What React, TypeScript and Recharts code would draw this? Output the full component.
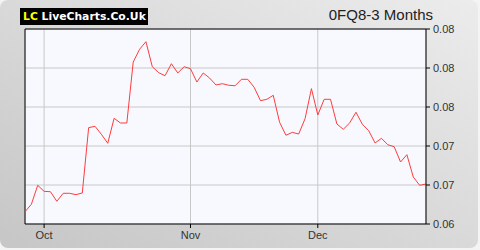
import { LineChart, Line, XAxis, YAxis, CartesianGrid, ReferenceLine } from 'recharts';

// closing prices, one per trading day
const prices = [
  0.06526, 0.06602, 0.06797, 0.06735, 0.06731, 0.06633, 0.06715, 0.06715, 0.06701, 0.06718,
  0.07388, 0.07402, 0.0732, 0.07228, 0.07484, 0.07436, 0.07436, 0.08061, 0.08192, 0.0827,
  0.08013, 0.07952, 0.07921, 0.08044, 0.07949, 0.08013, 0.07993, 0.07856, 0.07949, 0.07897,
  0.07826, 0.07839, 0.07823, 0.07818, 0.07884, 0.07884, 0.07802, 0.07665, 0.07679, 0.0772,
  0.07443, 0.0731, 0.0734, 0.07323, 0.0748, 0.07788, 0.07518, 0.07679, 0.07679, 0.07426,
  0.07371, 0.07436, 0.07546, 0.07423, 0.07357, 0.07231, 0.07279, 0.07213, 0.07193, 0.07036,
  0.07111, 0.06882, 0.06797, 0.0681,
];

const monthTickIdx = [3, 26, 46];
const monthTickLabels = ['Oct', 'Nov', 'Dec'];
const priceTicks = [0.064, 0.068, 0.072, 0.076, 0.08, 0.084];

const data = prices.map((price, i) => ({ i, price }));

const tickStyle = { fontSize: 11, fill: '#333', fontFamily: 'Liberation Sans, Arial, sans-serif' };

export default function App() {
  return (
    <div style={{ position: 'fixed', left: 0, top: 0, width: 480, height: 250, background: '#f4f4f4' }}>
      <div
        style={{
          position: 'absolute',
          left: 0,
          top: 0,
          width: 478,
          height: 248,
          borderRadius: 8,
          background: 'linear-gradient(to top right, #c6c6c6, #ececec)',
        }}
      />
      <LineChart
        width={480}
        height={250}
        data={data}
        margin={{ top: 29, right: 0, left: 25, bottom: 0 }}
        style={{ position: 'absolute', left: 0, top: 0 }}
      >
        <CartesianGrid stroke="#c8c8c8" fill="#f8f9ff" />
        <XAxis
          type="number"
          dataKey="i"
          domain={[0, prices.length - 1]}
          ticks={monthTickIdx}
          tickFormatter={(v: number) => monthTickLabels[monthTickIdx.indexOf(v)] ?? ''}
          height={26}
          tickSize={4}
          tickMargin={3}
          axisLine={{ stroke: '#000' }}
          tickLine={{ stroke: '#000' }}
          tick={tickStyle}
        />
        <YAxis
          orientation="right"
          domain={[0.064, 0.084]}
          ticks={priceTicks}
          tickFormatter={(v: number) => v.toFixed(2)}
          width={54}
          tickSize={4}
          tickMargin={3}
          axisLine={{ stroke: '#000' }}
          tickLine={{ stroke: '#000' }}
          tick={tickStyle}
        />
        <ReferenceLine x={0} stroke="#000" />
        <ReferenceLine y={0.084} stroke="#000" />
        <Line
          type="linear"
          dataKey="price"
          stroke="#ff3c3c"
          strokeWidth={1}
          dot={false}
          isAnimationActive={false}
        />
      </LineChart>
      <div
        style={{
          position: 'absolute',
          left: 20,
          top: 8,
          width: 128,
          height: 17,
          background: '#000',
          fontFamily: 'DejaVu Sans, sans-serif',
          fontWeight: 'bold',
          fontSize: 10.8,
          lineHeight: '17px',
          whiteSpace: 'nowrap',
          paddingLeft: 3,
          boxSizing: 'border-box',
        }}
      >
        <span style={{ color: '#ffff00' }}>LC</span>
        <span style={{ color: '#fff' }}> LiveCharts.Co.Uk</span>
      </div>
      <div
        style={{
          position: 'absolute',
          right: 480 - 433,
          top: 6,
          fontFamily: 'Liberation Sans, Arial, sans-serif',
          fontSize: 15,
          color: '#222',
          whiteSpace: 'nowrap',
        }}
      >
        0FQ8-3 Months
      </div>
    </div>
  );
}
